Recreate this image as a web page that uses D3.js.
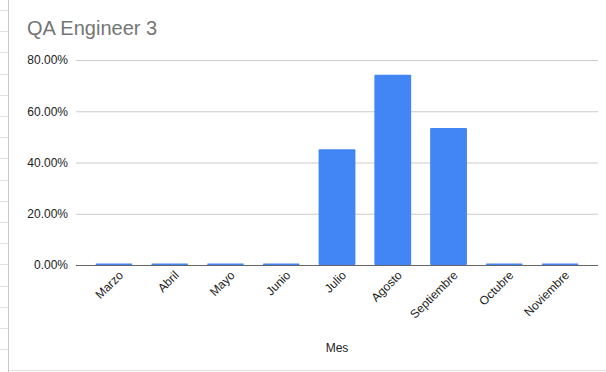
<!DOCTYPE html>
<html>
<head>
<meta charset="utf-8">
<script src="https://cdn.jsdelivr.net/npm/d3@7"></script>
<style>
  html, body { margin: 0; padding: 0; background: #fff; }
  svg { display: block; font-family: Arial, "Liberation Sans", sans-serif; }
</style>
</head>
<body>
<svg id="chart" width="606" height="372"></svg>
<script>
const categories = ["Marzo", "Abril", "Mayo", "Junio", "Julio", "Agosto", "Septiembre", "Octubre", "Noviembre"];
const values = [0, 0, 0, 0, 0.452, 0.742, 0.535, 0, 0];
const yTicks = [0, 0.2, 0.4, 0.6, 0.8];
const title = "QA Engineer 3";
const xTitle = "Mes";

(function () {
const svg = d3.select("#chart");
const W = 606, H = 372;

// spreadsheet background remnants
const bg = svg.append("g");
bg.append("line").attr("x1", 8.5).attr("x2", 8.5).attr("y1", 0).attr("y2", H)
  .attr("stroke", "#c8c8c8").attr("stroke-width", 1);
d3.range(17).forEach(i => {
  const yy = Math.round(10 + i * 21.2) + 0.5;
  bg.append("line").attr("x1", 0).attr("x2", 8).attr("y1", yy).attr("y2", yy)
    .attr("stroke", "#e0e0e0").attr("stroke-width", 1);
});
bg.append("line").attr("x1", 9).attr("x2", W).attr("y1", 370.5).attr("y2", 370.5)
  .attr("stroke", "#e2e2e2").attr("stroke-width", 1);

const pLeft = 76, pRight = 598, pTop = 60, pBottom = 265;

const x = d3.scaleBand().domain(categories).range([pLeft, pRight])
  .paddingInner(0.34).paddingOuter(0.35);
const y = d3.scaleLinear().domain([0, 0.8]).range([pBottom, pTop]);

// title
svg.append("text").attr("x", 27).attr("y", 35)
  .attr("font-size", 20).attr("fill", "#757575").text(title);

// gridlines + y labels
const yAxis = d3.axisLeft(y).tickValues(yTicks).tickFormat(d3.format(".2%"))
  .tickSize(-(pRight - pLeft)).tickPadding(8);
const gy = svg.append("g").attr("transform", `translate(${pLeft},0)`).call(yAxis);
gy.select(".domain").remove();
gy.selectAll(".tick line").attr("stroke", "#cccccc");
gy.selectAll(".tick text").attr("font-size", 12).attr("fill", "#222")
  .attr("font-family", "Arial, 'Liberation Sans', sans-serif");

// bars
svg.append("g").selectAll("rect").data(categories.map((c, i) => ({c, v: values[i]})))
  .join("rect")
  .attr("x", d => x(d.c))
  .attr("width", x.bandwidth())
  .attr("y", d => Math.min(y(d.v), pBottom - 1.5))
  .attr("height", d => Math.max(pBottom - y(d.v), 1.5))
  .attr("rx", 1).attr("ry", 1)
  .attr("fill", "#4285f4");

// baseline
svg.append("line").attr("x1", pLeft).attr("x2", pRight)
  .attr("y1", pBottom + 0.5).attr("y2", pBottom + 0.5)
  .attr("stroke", "#666").attr("stroke-width", 1);

// x labels
const xAxis = d3.axisBottom(x).tickSize(0).tickPadding(0);
const gx = svg.append("g").attr("transform", `translate(0,${pBottom})`).call(xAxis);
gx.select(".domain").remove();
gx.selectAll(".tick text")
  .attr("font-size", 12).attr("fill", "#222")
  .attr("font-family", "Arial, 'Liberation Sans', sans-serif")
  .attr("text-anchor", "end")
  .attr("dy", "0.35em")
  .attr("transform", "translate(7,8) rotate(-45)")
  .attr("y", 0);

// x title
svg.append("text").attr("x", (pLeft + pRight) / 2).attr("y", 352)
  .attr("text-anchor", "middle").attr("font-size", 12).attr("fill", "#222").text(xTitle);
})();
</script>
</body>
</html>
